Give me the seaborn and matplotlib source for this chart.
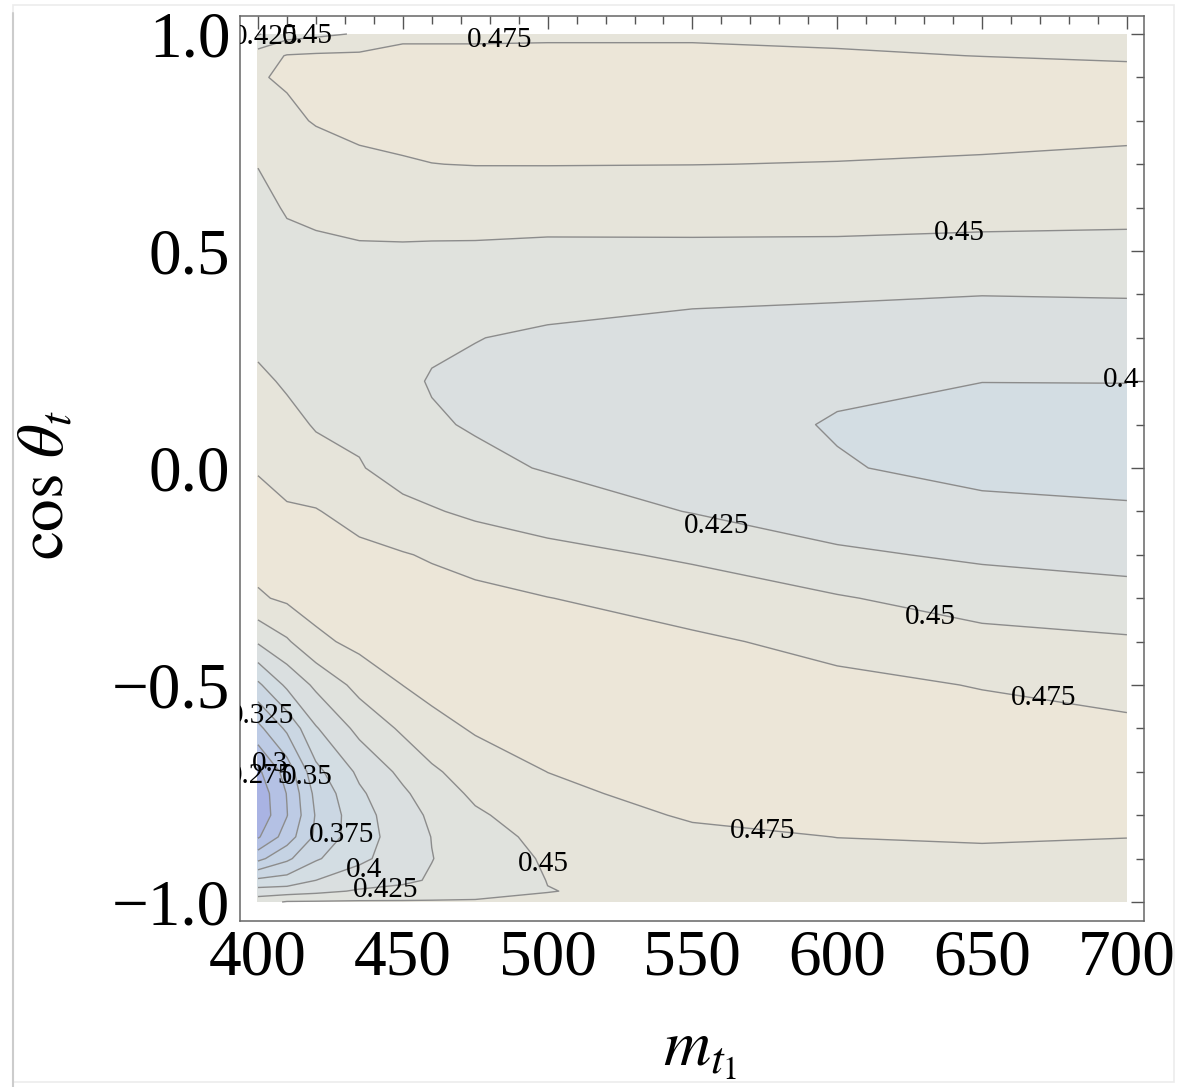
import numpy as np
import seaborn as sns

import matplotlib
matplotlib.use("Agg")

import matplotlib.pyplot as plt
from matplotlib.ticker import MultipleLocator
from matplotlib.lines import Line2D

# grid: stop mass (columns) and cos(theta_t) (rows, top to bottom)
m_stop = [400, 410, 420, 435, 450, 460, 475, 500, 550, 600, 650, 700]
cos_theta = [1.0, 0.95, 0.9, 0.8, 0.7, 0.6, 0.5, 0.4, 0.3, 0.2, 0.1, 0.0,
             -0.1, -0.2, -0.3, -0.4, -0.5, -0.6, -0.7, -0.75, -0.8, -0.85,
             -0.9, -0.95, -0.975, -1.0]

# estimated values, one list per mass column
z_400 = [0.423, 0.462, 0.4735, 0.466, 0.4505, 0.445, 0.441, 0.440, 0.445, 0.454, 0.463, 0.4735, 0.482,
         0.484, 0.472, 0.428, 0.370, 0.318, 0.270, 0.258, 0.256, 0.272, 0.318, 0.380, 0.410, 0.440]
z_410 = [0.440, 0.4765, 0.4775, 0.4705, 0.4595, 0.4515, 0.4455, 0.4425, 0.4455, 0.4475, 0.4555, 0.4665, 0.4775,
         0.486, 0.479, 0.447, 0.405, 0.355, 0.310, 0.301, 0.299, 0.312, 0.345, 0.385, 0.412, 0.452]
z_420 = [0.445, 0.4785, 0.481, 0.4765, 0.4645, 0.455, 0.4455, 0.4415, 0.4425, 0.4465, 0.4485, 0.4575, 0.4765,
         0.487, 0.486, 0.469, 0.430, 0.398, 0.368, 0.357, 0.352, 0.355, 0.372, 0.400, 0.418, 0.4525]
z_435 = [0.452, 0.4795, 0.482, 0.4795, 0.4715, 0.458, 0.4475, 0.4405, 0.439, 0.4415, 0.4455, 0.4515, 0.465,
         0.482, 0.489, 0.482, 0.458, 0.432, 0.405, 0.396, 0.391, 0.390, 0.395, 0.412, 0.428, 0.453]
z_450 = [0.470, 0.481, 0.483, 0.481, 0.4735, 0.4595, 0.4475, 0.4375, 0.432, 0.4295, 0.4335, 0.441, 0.456,
         0.4765, 0.488, 0.4885, 0.4752, 0.454, 0.431, 0.421, 0.414, 0.411, 0.412, 0.421, 0.431, 0.453]
z_460 = [0.470, 0.481, 0.4835, 0.4815, 0.4748, 0.460, 0.447, 0.436, 0.4285, 0.4235, 0.4275, 0.436, 0.452,
         0.4725, 0.485, 0.489, 0.4825, 0.467, 0.446, 0.437, 0.4295, 0.4255, 0.4245, 0.427, 0.435, 0.453]
z_475 = [0.470, 0.481, 0.4845, 0.482, 0.4755, 0.461, 0.4465, 0.4335, 0.4255, 0.4215, 0.423, 0.4305, 0.4455,
         0.4655, 0.482, 0.4895, 0.488, 0.4775, 0.462, 0.4545, 0.4465, 0.439, 0.435, 0.432, 0.440, 0.453]
z_500 = [0.471, 0.481, 0.485, 0.4835, 0.4755, 0.4615, 0.4445, 0.432, 0.422, 0.4175, 0.417, 0.4235, 0.438,
         0.4575, 0.4755, 0.486, 0.491, 0.487, 0.4752, 0.469, 0.463, 0.4575, 0.453, 0.4505, 0.4495, 0.4535]
z_550 = [0.472, 0.4795, 0.483, 0.483, 0.4752, 0.462, 0.4445, 0.4285, 0.418, 0.411, 0.4085, 0.4125, 0.424,
         0.446, 0.464, 0.479, 0.488, 0.491, 0.488, 0.4845, 0.4775, 0.470, 0.463, 0.458, 0.456, 0.454]
z_600 = [0.472, 0.4765, 0.481, 0.482, 0.4745, 0.462, 0.444, 0.4285, 0.410, 0.4035, 0.3985, 0.4015, 0.412,
         0.429, 0.452, 0.468, 0.4805, 0.487, 0.488, 0.486, 0.482, 0.4752, 0.470, 0.466, 0.464, 0.462]
z_650 = [0.465, 0.4748, 0.481, 0.482, 0.473, 0.4595, 0.4425, 0.4255, 0.410, 0.4002, 0.3935, 0.3945, 0.405,
         0.421, 0.439, 0.458, 0.474, 0.483, 0.487, 0.485, 0.481, 0.4765, 0.4715, 0.467, 0.465, 0.463]
z_700 = [0.466, 0.4735, 0.479, 0.479, 0.472, 0.459, 0.441, 0.4265, 0.410, 0.4003, 0.394, 0.394, 0.402,
         0.416, 0.434, 0.453, 0.468, 0.479, 0.484, 0.482, 0.479, 0.4752, 0.4715, 0.469, 0.468, 0.467]

contour_levels = [0.275, 0.3, 0.325, 0.35, 0.375, 0.4, 0.425, 0.45, 0.475]

# contour labels as they sit on the picture
label_text = ["0.425", "0.45", "0.475", "0.45", "0.4", "0.425", "0.45", "0.475", "0.475",
              "0.45", "0.425", "0.4", "0.375", "0.35", "0.275", "0.3", "0.325"]
label_m = [402.5, 416.9, 483.5, 642.0, 698.0, 558.4, 632.2, 671.3, 574.2,
           498.6, 444.0, 436.6, 428.9, 417.1, 401.0, 404.1, 401.2]
label_c = [0.993, 0.995, 0.986, 0.541, 0.203, -0.134, -0.343, -0.530, -0.836,
           -0.913, -0.972, -0.926, -0.846, -0.712, -0.710, -0.682, -0.571]

sns.set_theme(style="white")
plt.rcParams["font.family"] = ["Liberation Serif", "DejaVu Serif"]
plt.rcParams["mathtext.fontset"] = "stix"
plt.rcParams["text.color"] = "black"

# band colours, blue at low values to beige at high values
band_colors = sns.blend_palette(
    ["#a9b3e3", "#b4c1e4", "#bdcbe5", "#c5d3e4", "#cbd7e3",
     "#d3dde3", "#dadfe0", "#e0e2dd", "#e6e4da", "#ece6d8"], 10)

Z = np.column_stack([z_400, z_410, z_420, z_435, z_450, z_460, z_475,
                     z_500, z_550, z_600, z_650, z_700])
M, C = np.meshgrid(m_stop, cos_theta)

fig = plt.figure(figsize=(11.82, 10.87), dpi=100)
ax = fig.add_axes([240 / 1182, 166 / 1087, 904 / 1182, 905 / 1087])

fill_levels = [0.2] + contour_levels + [0.55]
ax.contourf(M, C, Z, levels=fill_levels, colors=band_colors)
ax.contour(M, C, Z, levels=contour_levels, colors="#8c8c8c", linewidths=1.0)

for txt, xm, yc in zip(label_text, label_m, label_c):
    ax.text(xm, yc, txt, ha="center", va="center", fontsize=21,
            color="black", clip_on=True)

ax.set_xlim(393.8, 705.9)
ax.set_ylim(-1.0438, 1.0415)
ax.set_xticks([400, 450, 500, 550, 600, 650, 700])
ax.xaxis.set_minor_locator(MultipleLocator(10))
ax.yaxis.set_major_locator(MultipleLocator(0.5))
ax.yaxis.set_minor_locator(MultipleLocator(0.1))

ax.tick_params(which="both", direction="in", top=True, right=True,
               color="#555555", width=1.0, labelsize=47, labelcolor="black")
ax.tick_params(which="major", length=9.5)
ax.tick_params(which="minor", length=5.8)
ax.tick_params(axis="y", pad=7)
ax.tick_params(axis="x", pad=6)
for sp in ax.spines.values():
    sp.set_color("#666666")
    sp.set_linewidth(1.1)

fig.text(48 / 1182, 1 - 485 / 1087, r"$\cos\,\theta_t$", rotation=90,
         ha="center", va="center", fontsize=47, color="black")
fig.text(700 / 1182, 1 - 1052 / 1087, r"$m_{t_1}$",
         ha="center", va="center", fontsize=47, color="black")

# light outer frame of the exported image
fig.add_artist(plt.Rectangle((13 / 1182, 5 / 1087), 1161 / 1182, 1077 / 1087,
                             transform=fig.transFigure, fill=False,
                             edgecolor="#ececec", linewidth=1.2))
fig.add_artist(Line2D([13 / 1182, 13 / 1182], [0, 1 - 13 / 1087],
                      transform=fig.transFigure, color="#cccccc", linewidth=1.5))

fig.savefig("out.png", dpi=100)
